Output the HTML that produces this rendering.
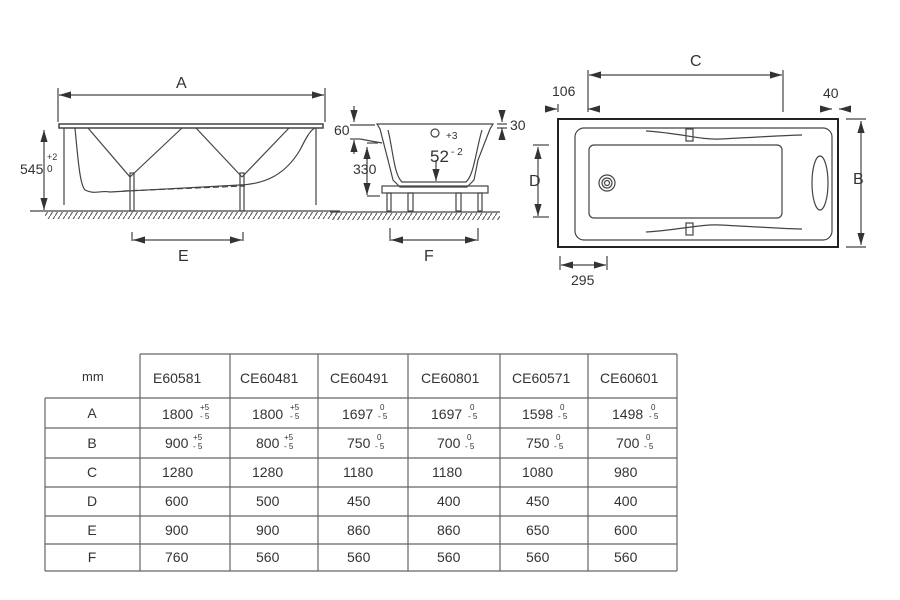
<!DOCTYPE html>
<html><head><style>
body{margin:0;background:#fff;width:900px;height:600px;overflow:hidden}
svg{display:block}
text{font-family:"Liberation Sans",sans-serif;fill:#333}
</style></head><body>
<svg width="900" height="600" viewBox="0 0 900 600">
<defs>
<pattern id="h" width="5" height="8" patternUnits="userSpaceOnUse"><path d="M5 0 L0 8" stroke="#555" stroke-width="1"/></pattern>
<marker id="a" viewBox="0 0 10 6" refX="10" refY="3" markerWidth="10" markerHeight="6" orient="auto-start-reverse"><path d="M0 0L10 3L0 6z" fill="#333"/></marker>
</defs>
<g stroke="#444" fill="none" stroke-width="1.2">
<!-- LEFT -->
<line x1="59" y1="95" x2="324" y2="95" marker-start="url(#a)" marker-end="url(#a)"/>
<line x1="58" y1="88" x2="58" y2="122"/><line x1="325" y1="88" x2="325" y2="122"/>
<rect x="59" y="124" width="264" height="4" stroke-width="1.5"/>
<path d="M75 128 C78 160 80 185 85 190 C95 195 100 190 110 192 L240 185 C265 184 285 175 300 150 C305 140 310 130 315 128"/>
<line x1="88" y1="128" x2="130" y2="177"/><line x1="130" y1="177" x2="182" y2="128"/>
<line x1="196" y1="128" x2="242" y2="177"/><line x1="242" y1="177" x2="289" y2="128"/>
<line x1="123" y1="191" x2="245" y2="186" stroke-dasharray="6 3"/>
<line x1="64" y1="128" x2="64" y2="205"/><line x1="316" y1="128" x2="316" y2="205"/>
<rect x="130" y="173" width="4" height="38"/><rect x="240" y="173" width="4" height="38"/>
<line x1="44" y1="130" x2="44" y2="210" marker-start="url(#a)" marker-end="url(#a)"/>
<line x1="30" y1="211" x2="340" y2="211"/>
<rect x="45" y="212" width="295" height="7" fill="url(#h)" stroke="none"/>
<line x1="133" y1="240" x2="242" y2="240" marker-start="url(#a)" marker-end="url(#a)"/>
<line x1="132" y1="232" x2="132" y2="241"/><line x1="243" y1="232" x2="243" y2="241"/>
<!-- MIDDLE -->
<path d="M377 124 L493 124 L490 129 L478 160 L474 180 L467 187 L400 187 L393 180 L388 160 L380 129 Z"/>
<path d="M388 130 C393 150 394 175 402 182 L466 182 C474 175 476 150 482 130"/>
<rect x="382" y="186" width="106" height="7"/>
<rect x="387" y="193" width="4" height="18"/><rect x="408" y="193" width="5" height="18"/><rect x="456" y="193" width="5" height="18"/><rect x="478" y="193" width="4" height="18"/>
<circle cx="435" cy="133" r="4"/>
<line x1="330" y1="212" x2="500" y2="212"/>
<rect x="330" y="213" width="170" height="7" fill="url(#h)" stroke="none"/>
<line x1="354" y1="106" x2="354" y2="122" marker-end="url(#a)"/><line x1="354" y1="154" x2="354" y2="140" marker-end="url(#a)"/>
<line x1="350" y1="125" x2="375" y2="125"/><line x1="350" y1="139" x2="360" y2="139"/><line x1="360" y1="139" x2="382" y2="143"/>
<line x1="367" y1="150" x2="367" y2="190"/><line x1="367" y1="148" x2="367" y2="148"/>
<line x1="367" y1="160" x2="367" y2="147" marker-end="url(#a)"/><line x1="367" y1="185" x2="367" y2="195" marker-end="url(#a)"/>
<line x1="367" y1="196" x2="380" y2="196"/><line x1="367" y1="143" x2="378" y2="143"/>
<line x1="502" y1="114" x2="502" y2="122" marker-end="url(#a)"/><line x1="502" y1="136" x2="502" y2="128" marker-end="url(#a)"/>
<line x1="497" y1="124" x2="507" y2="124"/><line x1="497" y1="128" x2="507" y2="128"/>
<line x1="436" y1="160" x2="436" y2="181" marker-end="url(#a)"/>
<line x1="391" y1="240" x2="477" y2="240" marker-start="url(#a)" marker-end="url(#a)"/>
<line x1="390" y1="228" x2="390" y2="241"/><line x1="478" y1="228" x2="478" y2="241"/>
<!-- RIGHT -->
<rect x="558" y="119" width="280" height="128" stroke-width="2" stroke="#222"/>
<rect x="575" y="128" width="257" height="112" rx="9"/>
<rect x="589" y="145" width="193" height="73" rx="5"/>
<circle cx="607" cy="183" r="8"/><circle cx="607" cy="183" r="5"/><circle cx="607" cy="183" r="2.5"/>
<ellipse cx="820" cy="183" rx="8" ry="27"/>
<path d="M646 131 C680 133 700 140 720 139 C760 137 790 135 802 135"/>
<path d="M646 232 C680 230 700 224 720 225 C760 227 790 229 802 229"/>
<rect x="686" y="129" width="7" height="12"/><rect x="686" y="223" width="7" height="12"/>
<line x1="589" y1="75" x2="782" y2="75" marker-start="url(#a)" marker-end="url(#a)"/>
<line x1="588" y1="70" x2="588" y2="112"/><line x1="783" y1="70" x2="783" y2="112"/>
<line x1="549" y1="109" x2="557" y2="109" marker-end="url(#a)"/><line x1="595" y1="109" x2="588" y2="109" marker-end="url(#a)"/>
<line x1="558" y1="104" x2="558" y2="112"/><line x1="826" y1="109" x2="832" y2="109" marker-end="url(#a)"/><line x1="850" y1="109" x2="839" y2="109" marker-end="url(#a)"/>
<line x1="861" y1="121" x2="861" y2="245" marker-start="url(#a)" marker-end="url(#a)"/>
<line x1="846" y1="119" x2="866" y2="119"/><line x1="846" y1="247" x2="866" y2="247"/>
<line x1="538" y1="147" x2="538" y2="216" marker-start="url(#a)" marker-end="url(#a)"/>
<line x1="533" y1="145" x2="549" y2="145"/><line x1="533" y1="217" x2="549" y2="217"/>
<line x1="561" y1="265" x2="606" y2="265" marker-start="url(#a)" marker-end="url(#a)"/>
<line x1="560" y1="256" x2="560" y2="270"/><line x1="607" y1="256" x2="607" y2="270"/>
</g>
<g font-size="16">
<text x="176" y="88">A</text><text x="178" y="261">E</text>
<text x="424" y="261">F</text>
<text x="690" y="66">C</text><text x="853" y="184">B</text><text x="529" y="186">D</text>
</g>
<g font-size="14">
<text x="20" y="174">545</text><text x="47" y="160" font-size="9">+2</text><text x="47" y="172" font-size="10">0</text>
<text x="334" y="135">60</text><text x="353" y="174">330</text>
<text x="510" y="130">30</text><text x="430" y="162" font-size="17">52</text><text x="451" y="155" font-size="10">- 2</text><text x="446" y="139" font-size="10">+3</text>
<text x="552" y="96">106</text><text x="823" y="98">40</text><text x="571" y="285">295</text>
</g>
<!-- TABLE -->
<g stroke="#666" stroke-width="1.2" fill="none">
<line x1="140" y1="354" x2="677" y2="354"/>
<line x1="45" y1="398" x2="677" y2="398"/>
<line x1="45" y1="428" x2="677" y2="428"/>
<line x1="45" y1="458" x2="677" y2="458"/>
<line x1="45" y1="487" x2="677" y2="487"/>
<line x1="45" y1="516" x2="677" y2="516"/>
<line x1="45" y1="544" x2="677" y2="544"/>
<line x1="45" y1="571" x2="677" y2="571"/>
<line x1="45" y1="398" x2="45" y2="571"/>
<line x1="140" y1="354" x2="140" y2="571"/><line x1="230" y1="354" x2="230" y2="571"/><line x1="318" y1="354" x2="318" y2="571"/><line x1="408" y1="354" x2="408" y2="571"/><line x1="500" y1="354" x2="500" y2="571"/><line x1="588" y1="354" x2="588" y2="571"/><line x1="677" y1="354" x2="677" y2="571"/>
</g>
<g font-size="14">
<text x="82" y="381" font-size="13">mm</text>
<text x="153" y="383">E60581</text><text x="240" y="383">CE60481</text><text x="330" y="383">CE60491</text><text x="421" y="383">CE60801</text><text x="512" y="383">CE60571</text><text x="600" y="383">CE60601</text>
<g text-anchor="middle"><text x="92" y="418">A</text><text x="92" y="448">B</text><text x="92" y="477">C</text><text x="92" y="506">D</text><text x="92" y="535">E</text><text x="92" y="562">F</text></g>
<text x="162" y="419">1800</text><text x="252" y="419">1800</text><text x="342" y="419">1697</text><text x="431" y="419">1697</text><text x="522" y="419">1598</text><text x="612" y="419">1498</text>
<text x="165" y="448">900</text><text x="256" y="448">800</text><text x="347" y="448">750</text><text x="437" y="448">700</text><text x="526" y="448">750</text><text x="616" y="448">700</text>
<text x="162" y="477">1280</text><text x="252" y="477">1280</text><text x="343" y="477">1180</text><text x="432" y="477">1180</text><text x="522" y="477">1080</text><text x="614" y="477">980</text>
<text x="165" y="506">600</text><text x="256" y="506">500</text><text x="347" y="506">450</text><text x="437" y="506">400</text><text x="526" y="506">450</text><text x="614" y="506">400</text>
<text x="165" y="535">900</text><text x="256" y="535">900</text><text x="347" y="535">860</text><text x="437" y="535">860</text><text x="526" y="535">650</text><text x="614" y="535">600</text>
<text x="165" y="562">760</text><text x="256" y="562">560</text><text x="347" y="562">560</text><text x="437" y="562">560</text><text x="526" y="562">560</text><text x="614" y="562">560</text>
</g>
<g font-size="8">
<text x="200" y="410">+5</text><text x="200" y="419">- 5</text><text x="290" y="410">+5</text><text x="290" y="419">- 5</text>
<text x="380" y="410">0</text><text x="378" y="419">- 5</text><text x="470" y="410">0</text><text x="468" y="419">- 5</text><text x="560" y="410">0</text><text x="558" y="419">- 5</text><text x="651" y="410">0</text><text x="649" y="419">- 5</text>
<text x="193" y="440">+5</text><text x="193" y="449">- 5</text><text x="284" y="440">+5</text><text x="284" y="449">- 5</text>
<text x="377" y="440">0</text><text x="375" y="449">- 5</text><text x="467" y="440">0</text><text x="465" y="449">- 5</text><text x="556" y="440">0</text><text x="554" y="449">- 5</text><text x="646" y="440">0</text><text x="644" y="449">- 5</text>
</g>
</svg>
</body></html>
